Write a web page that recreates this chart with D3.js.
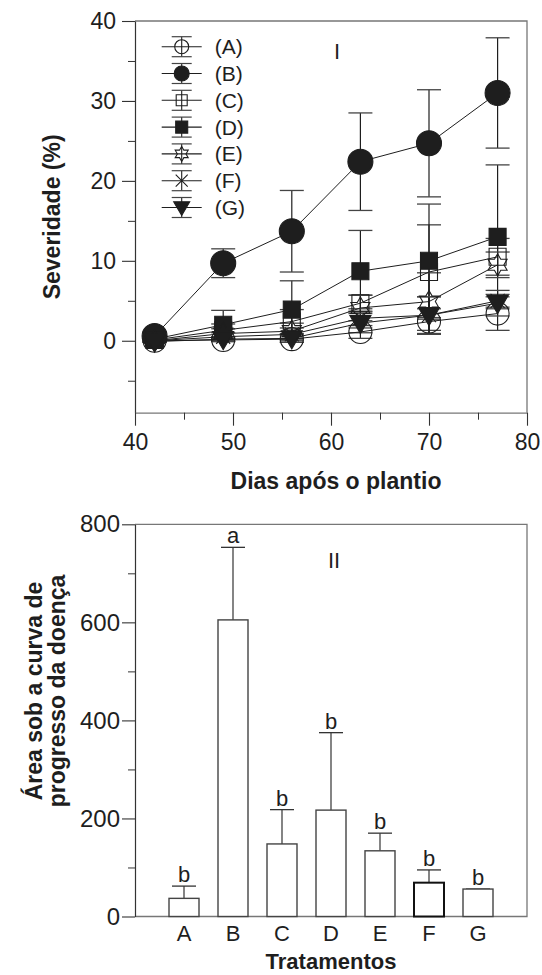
<!DOCTYPE html>
<html>
<head>
<meta charset="utf-8">
<script src="https://cdn.jsdelivr.net/npm/d3@7"></script>
<style>
  html, body { margin: 0; padding: 0; background: #fff; }
  svg { display: block; font-family: "Liberation Sans", Arial, sans-serif; }
</style>
</head>
<body>
<script>
// Dados
const dias = [42, 49, 56, 63, 70, 77];
const tratamentos = ["A", "B", "C", "D", "E", "F", "G"];

// Severidade (%) por tratamento, e desvio (barra de erro)
const sevA = [0.0, 0.1, 0.2, 1.1, 2.4, 3.4];
const sevB = [0.6, 9.7, 13.7, 22.4, 24.7, 31.0];
const sevC = [0.1, 1.3, 2.4, 4.7, 8.6, 10.5];
const sevD = [0.2, 2.0, 3.9, 8.7, 10.0, 13.0];
const sevE = [0.0, 0.9, 1.2, 4.1, 4.9, 9.5];
const sevF = [0.0, 0.5, 0.8, 2.8, 3.2, 5.0];
const sevG = [-0.1, 0.2, 0.3, 2.2, 3.2, 4.7];

const errA = [0.2, 0.2, 0.4, 0.8, 1.6, 2.1];
const errB = [0.5, 1.8, 5.1, 6.1, 6.7, 6.9];
const errC = [0.2, 0.8, 1.5, 1.0, 5.9, 2.3];
const errD = [0.3, 1.8, 3.6, 5.1, 7.1, 9.0];
const errE = [0.2, 0.6, 1.0, 1.6, 3.6, 1.6];
const errF = [0.1, 0.5, 0.8, 1.2, 2.3, 0.8];
const errG = [0.1, 0.3, 0.5, 1.2, 2.3, 1.6];

// Area sob a curva (AACPD)
const aacpd = [37, 605, 148, 217, 134, 69, 56];
const aacpdErr = [25, 148, 70, 158, 36, 26, 0];
const letras = ["b", "a", "b", "b", "b", "b", "b"];

const ticksSev = [0, 10, 20, 30, 40];
const ticksSevMenor = [-5, 5, 15, 25, 35];
const ticksDias = [40, 50, 60, 70, 80];
const ticksDiasMenor = [45, 55, 65, 75];
const ticksArea = [0, 200, 400, 600, 800];
const ticksAreaMenor = [100, 300, 500, 700];

const series = [
  {nome: "(A)", v: sevA, e: errA, tipo: "circulo", cheio: false, t: 23, tl: 14},
  {nome: "(B)", v: sevB, e: errB, tipo: "circulo", cheio: true, t: 25, tl: 15},
  {nome: "(C)", v: sevC, e: errC, tipo: "quadrado", cheio: false, t: 17, tl: 11},
  {nome: "(D)", v: sevD, e: errD, tipo: "quadrado", cheio: true, t: 17, tl: 12},
  {nome: "(E)", v: sevE, e: errE, tipo: "estrela", cheio: false, t: 22, tl: 15},
  {nome: "(F)", v: sevF, e: errF, tipo: "x", cheio: false, t: 14, tl: 12},
  {nome: "(G)", v: sevG, e: errG, tipo: "triangulo", cheio: true, t: 21, tl: 16}
];

const W = 542, H = 975;
const preto = "#1e1e1e";

const svg = d3.select("body").append("svg")
  .attr("width", W)
  .attr("height", H);

// forma do marcador, centrada em 0,0
function forma(tipo, s) {
  const h = s / 2;
  if (tipo === "circulo") {
    return `M${h},0A${h},${h} 0 1,1 ${-h},0A${h},${h} 0 1,1 ${h},0Z`;
  }
  if (tipo === "quadrado") {
    return `M${-h},${-h}h${s}v${s}h${-s}Z`;
  }
  if (tipo === "x") {
    return `M${-h},${-h}L${h},${h}M${-h},${h}L${h},${-h}`;
  }
  if (tipo === "triangulo") {
    return `M${-h},${-s * 0.36}L${h},${-s * 0.36}L0,${s * 0.5}Z`;
  }
  // estrela de seis pontas (contorno)
  const pts = [];
  for (let i = 0; i < 12; i++) {
    const r = i % 2 === 0 ? h : h / Math.sqrt(3);
    const a = -Math.PI / 2 + i * Math.PI / 6;
    pts.push([r * Math.cos(a), r * Math.sin(a)]);
  }
  return "M" + pts.map(p => p.join(",")).join("L") + "Z";
}

// ---------- Grafico I ----------
const x1 = d3.scaleLinear().domain([40, 80]).range([135, 527]);
const y1 = d3.scaleLinear().domain([-9, 40]).range([412.7, 21]);

const g1 = svg.append("g");

// moldura
g1.append("path")
  .attr("d", `M135,${y1(40)}H527V${y1(-9)}`)
  .attr("fill", "none").attr("stroke", "#777").attr("stroke-width", 1.3);

function estiloEixo(g, fs) {
  g.select(".domain").attr("stroke", "#333").attr("stroke-width", 1.2);
  g.selectAll(".tick line").attr("stroke", "#333").attr("stroke-width", 1.1);
  g.selectAll(".tick text").attr("fill", preto).style("font-size", fs + "px");
}

const eixoY1 = g1.append("g").attr("transform", "translate(135,0)")
  .call(d3.axisLeft(y1).tickValues(ticksSev).tickSize(13).tickPadding(6).tickSizeOuter(0));
estiloEixo(eixoY1, 23);
g1.append("g").attr("transform", "translate(135,0)")
  .call(d3.axisLeft(y1).tickValues(ticksSevMenor).tickSize(7).tickFormat("").tickSizeOuter(0))
  .call(g => { g.select(".domain").remove(); g.selectAll("line").attr("stroke", "#333"); });

const eixoX1 = g1.append("g").attr("transform", `translate(0,${y1(-9)})`)
  .call(d3.axisBottom(x1).tickValues(ticksDias).tickSize(13).tickPadding(8).tickSizeOuter(0));
estiloEixo(eixoX1, 23);
eixoX1.select(".domain").attr("stroke", "#777");
g1.append("g").attr("transform", `translate(0,${y1(-9)})`)
  .call(d3.axisBottom(x1).tickValues(ticksDiasMenor).tickSize(7).tickFormat("").tickSizeOuter(0))
  .call(g => { g.select(".domain").remove(); g.selectAll("line").attr("stroke", "#333"); });

// titulos
g1.append("text")
  .attr("transform", `translate(60,${(y1(40) + y1(-9)) / 2}) rotate(-90)`)
  .attr("text-anchor", "middle")
  .attr("fill", preto)
  .style("font-size", "23px").style("font-weight", "bold")
  .text("Severidade (%)");
g1.append("text")
  .attr("x", 336).attr("y", 489)
  .attr("text-anchor", "middle")
  .attr("fill", preto)
  .style("font-size", "23px").style("font-weight", "bold")
  .text("Dias após o plantio");
g1.append("text")
  .attr("x", 337).attr("y", 59)
  .attr("text-anchor", "middle")
  .attr("fill", preto)
  .style("font-size", "22px")
  .text("I");

// barras de erro
series.forEach(s => {
  const gs = g1.append("g");
  const pts = dias.map((d, i) => ({d: d, v: s.v[i], e: s.e[i]}));
  gs.selectAll(".ev").data(pts).enter().append("line")
    .attr("x1", p => x1(p.d)).attr("x2", p => x1(p.d))
    .attr("y1", p => y1(p.v + p.e)).attr("y2", p => y1(p.v - p.e))
    .attr("stroke", preto).attr("stroke-width", 1.2);
  [1, -1].forEach(sg => {
    gs.selectAll(".cap" + sg).data(pts).enter().append("line")
      .attr("x1", p => x1(p.d) - 12).attr("x2", p => x1(p.d) + 12)
      .attr("y1", p => y1(p.v + sg * p.e)).attr("y2", p => y1(p.v + sg * p.e))
      .attr("stroke", "#444").attr("stroke-width", 1.3);
  });
});

// linhas
const linha = d3.line().x((v, i) => x1(dias[i])).y(v => y1(v));
series.forEach(s => {
  g1.append("path")
    .datum(s.v)
    .attr("d", linha)
    .attr("fill", "none")
    .attr("stroke", preto)
    .attr("stroke-width", 1);
});

// marcadores
series.forEach(s => {
  g1.selectAll(null).data(s.v).enter().append("path")
    .attr("transform", (v, i) => `translate(${x1(dias[i])},${y1(v)})`)
    .attr("d", forma(s.tipo, s.t))
    .attr("fill", s.cheio ? preto : "none")
    .attr("stroke", preto)
    .attr("stroke-width", 1.1);
});

// legenda
const leg = g1.append("g").attr("transform", "translate(181.7,46.7)");
series.forEach((s, i) => {
  const gl = leg.append("g").attr("transform", `translate(0,${i * 26.8})`);
  gl.append("line").attr("x1", -20).attr("x2", 20).attr("stroke", preto).attr("stroke-width", 1.1);
  gl.append("line").attr("y1", -10).attr("y2", 10).attr("stroke", preto).attr("stroke-width", 1.1);
  [-10, 10].forEach(c => gl.append("line").attr("x1", -10).attr("x2", 10).attr("y1", c).attr("y2", c)
    .attr("stroke", "#444").attr("stroke-width", 1.2));
  gl.append("path")
    .attr("d", forma(s.tipo, s.tl))
    .attr("fill", s.cheio ? preto : "none")
    .attr("stroke", preto).attr("stroke-width", 1.1);
  gl.append("text")
    .attr("x", 33).attr("y", 7.5)
    .attr("fill", preto)
    .style("font-size", "21px")
    .text(s.nome);
});

// ---------- Grafico II ----------
const x2 = d3.scalePoint().domain(tratamentos).range([135, 527]).padding(1);
const y2 = d3.scaleLinear().domain([0, 800]).range([916.5, 524.3]);
const g2 = svg.append("g");

g2.append("path")
  .attr("d", `M135,${y2(800)}H527V${y2(0)}H135`)
  .attr("fill", "none").attr("stroke", "#777").attr("stroke-width", 1.3);

const eixoY2 = g2.append("g").attr("transform", "translate(135,0)")
  .call(d3.axisLeft(y2).tickValues(ticksArea).tickSize(13).tickPadding(2).tickSizeOuter(0));
estiloEixo(eixoY2, 24);
g2.append("g").attr("transform", "translate(135,0)")
  .call(d3.axisLeft(y2).tickValues(ticksAreaMenor).tickSize(7).tickFormat("").tickSizeOuter(0))
  .call(g => { g.select(".domain").remove(); g.selectAll("line").attr("stroke", "#333"); });

const dados2 = tratamentos.map((t, i) => ({t: t, v: aacpd[i], e: aacpdErr[i], l: letras[i]}));

g2.selectAll(".erro").data(dados2).enter().append("line")
  .attr("x1", d => x2(d.t)).attr("x2", d => x2(d.t))
  .attr("y1", d => y2(d.v)).attr("y2", d => y2(d.v + d.e))
  .attr("stroke", "#333").attr("stroke-width", 1.2);
g2.selectAll(".cap").data(dados2).enter().append("line")
  .attr("x1", d => x2(d.t) - 12).attr("x2", d => x2(d.t) + 12)
  .attr("y1", d => y2(d.v + d.e)).attr("y2", d => y2(d.v + d.e))
  .attr("stroke", "#333").attr("stroke-width", 1.3);

g2.selectAll(".barra").data(dados2).enter().append("rect")
  .attr("x", d => x2(d.t) - 15)
  .attr("width", 30)
  .attr("y", d => y2(d.v))
  .attr("height", d => y2(0) - y2(d.v))
  .attr("fill", "#fff")
  .attr("stroke", d => d.t === "F" ? "#111" : "#444")
  .attr("stroke-width", d => d.t === "F" ? 2 : 1.4);

g2.selectAll(".letra").data(dados2).enter().append("text")
  .attr("x", d => x2(d.t))
  .attr("y", d => y2(d.v + d.e) - 4)
  .attr("text-anchor", "middle")
  .attr("fill", preto)
  .style("font-size", "22px")
  .text(d => d.l);

g2.selectAll(".cat").data(tratamentos).enter().append("text")
  .attr("x", d => x2(d))
  .attr("y", 941)
  .attr("text-anchor", "middle")
  .attr("fill", preto)
  .style("font-size", "22px")
  .text(d => d);

g2.append("text")
  .attr("x", 331).attr("y", 969)
  .attr("text-anchor", "middle")
  .attr("fill", preto)
  .style("font-size", "22px").style("font-weight", "bold")
  .text("Tratamentos");

g2.append("text")
  .attr("x", 334).attr("y", 568)
  .attr("text-anchor", "middle")
  .attr("fill", preto)
  .style("font-size", "22px")
  .text("II");

const tituloY2 = g2.append("text")
  .attr("transform", "translate(0,691) rotate(-90)")
  .attr("text-anchor", "middle")
  .attr("fill", preto)
  .style("font-size", "23px").style("font-weight", "bold");
tituloY2.append("tspan").attr("x", 0).attr("y", 42).text("Área sob a curva de");
tituloY2.append("tspan").attr("x", 0).attr("y", 65).text("progresso da doença");
</script>
</body>
</html>
